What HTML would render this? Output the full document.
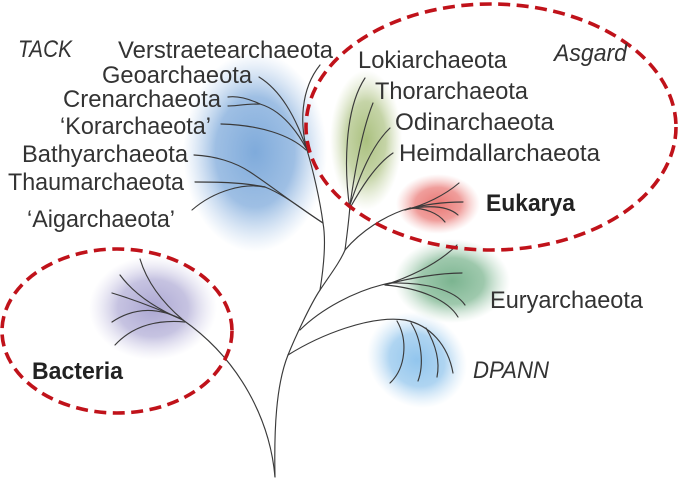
<!DOCTYPE html>
<html>
<head>
<meta charset="utf-8">
<style>
html,body{margin:0;padding:0;background:#fff;}
svg{display:block;}
text{font-family:"Liberation Sans",sans-serif;font-size:24px;fill:#333;}
.it{font-style:italic;}
.b{font-weight:bold;fill:#222;}
.l{fill:none;stroke:#3a3a3a;stroke-width:1.15;stroke-linecap:round;}
.d{fill:none;stroke:#c0121a;stroke-width:3.6;stroke-dasharray:12 6.5;}
</style>
</head>
<body>
<svg width="678" height="487" viewBox="0 0 678 487" xmlns="http://www.w3.org/2000/svg">
<defs>
<radialGradient id="gBlue"><stop offset="0" stop-color="#78a6d9" stop-opacity="0.95"/><stop offset="0.55" stop-color="#86afdd" stop-opacity="0.8"/><stop offset="1" stop-color="#a9c6e8" stop-opacity="0"/></radialGradient>
<radialGradient id="gOlive"><stop offset="0" stop-color="#a6bd78" stop-opacity="0.95"/><stop offset="0.55" stop-color="#b2c68a" stop-opacity="0.75"/><stop offset="1" stop-color="#cbd8ad" stop-opacity="0"/></radialGradient>
<radialGradient id="gRed"><stop offset="0" stop-color="#e8706c" stop-opacity="0.95"/><stop offset="0.55" stop-color="#ec8582" stop-opacity="0.8"/><stop offset="1" stop-color="#f2b0ae" stop-opacity="0"/></radialGradient>
<radialGradient id="gGreen"><stop offset="0" stop-color="#74b08a" stop-opacity="0.95"/><stop offset="0.55" stop-color="#86bb98" stop-opacity="0.8"/><stop offset="1" stop-color="#b2d4bd" stop-opacity="0"/></radialGradient>
<radialGradient id="gSky"><stop offset="0" stop-color="#8cc2ec" stop-opacity="0.95"/><stop offset="0.55" stop-color="#9bcaee" stop-opacity="0.8"/><stop offset="1" stop-color="#c2def4" stop-opacity="0"/></radialGradient>
<radialGradient id="gPurple"><stop offset="0" stop-color="#a7a2d0" stop-opacity="0.95"/><stop offset="0.55" stop-color="#b3afd7" stop-opacity="0.75"/><stop offset="1" stop-color="#d2cfe8" stop-opacity="0"/></radialGradient>
</defs>

<!-- blobs -->
<ellipse cx="255" cy="152" rx="72" ry="100" fill="url(#gBlue)"/>
<ellipse cx="366" cy="140" rx="36" ry="70" fill="url(#gOlive)"/>
<ellipse cx="438" cy="204" rx="42" ry="30" fill="url(#gRed)"/>
<ellipse cx="452" cy="281" rx="58" ry="42" fill="url(#gGreen)"/>
<ellipse cx="417" cy="360" rx="52" ry="46" transform="rotate(35 417 360)" fill="url(#gSky)"/>
<ellipse cx="153" cy="308" rx="64" ry="52" fill="url(#gPurple)"/>

<!-- tree: bacteria -->
<path class="l" d="M275,477 C270,420 240,360 183,320"/>
<path class="l" d="M183,320 Q150,292 140,259"/>
<path class="l" d="M183,320 Q140,302 120,275"/>
<path class="l" d="M183,320 Q145,303 112,293"/>
<path class="l" d="M183,320 Q145,300 112,322"/>
<path class="l" d="M185,322 Q140,318 115,345"/>

<!-- archaea trunk -->
<path class="l" d="M275,477 C274,430 276,385 288,355"/>
<path class="l" d="M288,355 C294,340 310,305 320,290"/>
<!-- DPANN -->
<path class="l" d="M288,355 C320,335 370,315 405,320 C430,325 448,345 453,373"/>
<path class="l" d="M397,321 C408,340 406,368 390,383"/>
<path class="l" d="M411,323 C422,340 424,365 418,381"/>
<path class="l" d="M426,328 C436,345 440,362 437,377"/>
<!-- Euryarchaeota -->
<path class="l" d="M300,330 C320,310 355,290 390,283"/>
<path class="l" d="M385,285 C415,275 440,262 457,245"/>
<path class="l" d="M388,284 C410,278 440,273 462,273"/>
<path class="l" d="M390,283 C425,282 455,290 465,305"/>
<path class="l" d="M385,285 C420,288 448,300 458,317"/>

<!-- TACK -->
<path class="l" d="M320,290 C324,265 326,240 323,223 C320,200 313,170 307,150"/>
<path class="l" d="M307,150 C300,125 300,90 320,65"/>
<path class="l" d="M307,150 C295,115 280,90 259,77"/>
<path class="l" d="M306,148 C295,128 280,110 260,104 C245,97 235,96 228,97"/>
<path class="l" d="M260,104 C245,104 235,106 228,106"/>
<path class="l" d="M306,150 C290,135 260,125 221,124"/>
<path class="l" d="M323,223 C295,205 270,185 250,172 C235,162 215,156 194,155"/>
<path class="l" d="M323,223 C300,208 285,195 265,187 C240,182 215,182 195,182"/>
<path class="l" d="M265,187 C245,183 215,190 192,210"/>

<!-- Asgard + Eukarya -->
<path class="l" d="M320,290 C330,275 340,262 345,250"/>
<path class="l" d="M345,250 C347,235 349,220 350,205"/>
<path class="l" d="M350,210 C344,170 344,110 365,78"/>
<path class="l" d="M350,205 C355,170 362,130 373,103"/>
<path class="l" d="M350,205 C360,175 372,145 390,128"/>
<path class="l" d="M350,208 C360,190 375,165 393,153"/>
<path class="l" d="M345,250 C360,232 385,215 410,208"/>
<path class="l" d="M405,210 C425,205 445,195 459,183"/>
<path class="l" d="M405,210 C425,204 445,202 463,202"/>
<path class="l" d="M408,209 C430,205 448,206 458,215"/>
<path class="l" d="M410,208 C425,208 438,213 445,222"/>

<!-- dashed ellipses -->
<ellipse class="d" cx="491" cy="127" rx="185" ry="123"/>
<ellipse class="d" cx="117" cy="331" rx="115" ry="82"/>

<!-- labels -->
<text class="it" x="18" y="57" textLength="54" lengthAdjust="spacingAndGlyphs">TACK</text>
<text x="118" y="58" textLength="215" lengthAdjust="spacingAndGlyphs">Verstraetearchaeota</text>
<text x="102" y="83" textLength="150" lengthAdjust="spacingAndGlyphs">Geoarchaeota</text>
<text x="63" y="107" textLength="158" lengthAdjust="spacingAndGlyphs">Crenarchaeota</text>
<text x="60" y="134" textLength="151" lengthAdjust="spacingAndGlyphs">‘Korarchaeota’</text>
<text x="22" y="162" textLength="166" lengthAdjust="spacingAndGlyphs">Bathyarchaeota</text>
<text x="8" y="190" textLength="176" lengthAdjust="spacingAndGlyphs">Thaumarchaeota</text>
<text x="27" y="227" textLength="148" lengthAdjust="spacingAndGlyphs">‘Aigarchaeota’</text>
<text x="358" y="68" textLength="149" lengthAdjust="spacingAndGlyphs">Lokiarchaeota</text>
<text class="it" x="554" y="61" textLength="73" lengthAdjust="spacingAndGlyphs">Asgard</text>
<text x="375" y="99" textLength="153" lengthAdjust="spacingAndGlyphs">Thorarchaeota</text>
<text x="395" y="130" textLength="159" lengthAdjust="spacingAndGlyphs">Odinarchaeota</text>
<text x="399" y="161" textLength="201" lengthAdjust="spacingAndGlyphs">Heimdallarchaeota</text>
<text class="b" x="486" y="211" textLength="89" lengthAdjust="spacingAndGlyphs">Eukarya</text>
<text x="490" y="308" textLength="153" lengthAdjust="spacingAndGlyphs">Euryarchaeota</text>
<text class="it" x="473" y="378" textLength="76" lengthAdjust="spacingAndGlyphs">DPANN</text>
<text class="b" x="32" y="379" textLength="91" lengthAdjust="spacingAndGlyphs">Bacteria</text>
</svg>
</body>
</html>
